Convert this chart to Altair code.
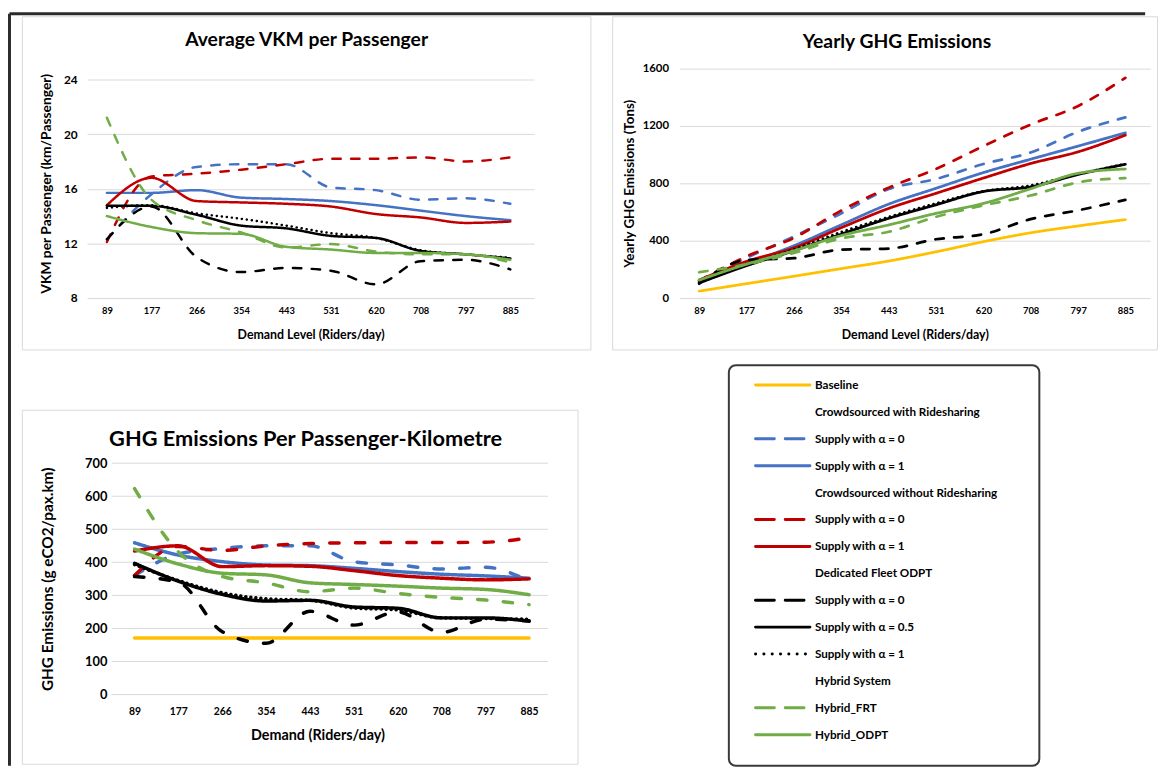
import altair as alt
import pandas as pd

FONT = "Lato"

demand = [89, 177, 266, 354, 443, 531, 620, 708, 797, 885]

# ---- Average VKM per Passenger (km/Passenger)
vkm_rs_a0 = [12.3, 15.6, 17.6, 17.8, 17.8, 16.1, 15.9, 15.2, 15.3, 14.9]
vkm_rs_a1 = [15.7, 15.7, 15.9, 15.35, 15.25, 15.1, 14.8, 14.4, 14.0, 13.7]
vkm_nors_a0 = [12.1, 16.9, 17.1, 17.4, 17.8, 18.2, 18.2, 18.3, 18.0, 18.3]
vkm_nors_a1 = [14.8, 16.8, 15.1, 15.0, 14.9, 14.7, 14.15, 13.9, 13.5, 13.6]
vkm_fleet_a0 = [12.3, 14.7, 11.0, 9.9, 10.2, 10.0, 9.0, 10.7, 10.8, 10.1]
vkm_fleet_a05 = [14.75, 14.75, 14.1, 13.3, 13.1, 12.55, 12.4, 11.45, 11.2, 10.9]
vkm_fleet_a1 = [14.6, 14.8, 14.2, 13.8, 13.3, 12.75, 12.4, 11.5, 11.2, 10.95]
vkm_hyb_frt = [21.2, 15.2, 13.7, 12.8, 11.7, 11.95, 11.4, 11.2, 11.2, 10.6]
vkm_hyb_odpt = [14.0, 13.2, 12.75, 12.7, 11.75, 11.55, 11.3, 11.3, 11.2, 10.8]

# ---- Yearly GHG Emissions (Tons)
ghg_baseline = [48, 100, 152, 205, 258, 322, 393, 455, 503, 547]
ghg_rs_a0 = [120, 280, 430, 590, 760, 830, 935, 1015, 1160, 1260]
ghg_rs_a1 = [125, 240, 365, 510, 655, 765, 875, 968, 1060, 1152]
ghg_nors_a0 = [120, 290, 420, 610, 770, 900, 1060, 1210, 1340, 1536]
ghg_nors_a1 = [125, 255, 350, 490, 625, 730, 837, 938, 1020, 1136]
ghg_fleet_a0 = [100, 265, 278, 338, 345, 410, 445, 550, 612, 685]
ghg_fleet_a05 = [105, 225, 330, 445, 556, 650, 743, 775, 862, 933]
ghg_fleet_a1 = [110, 230, 340, 460, 565, 660, 745, 785, 865, 935]
ghg_hyb_frt = [180, 235, 315, 416, 462, 566, 646, 715, 807, 837]
ghg_hyb_odpt = [125, 235, 330, 435, 510, 590, 660, 762, 870, 900]

# ---- GHG Emissions per passenger-km (g eCO2/pax.km)
pkm_baseline = [171, 171, 171, 171, 171, 171, 171, 171, 171, 171]
pkm_rs_a0 = [360, 425, 442, 450, 450, 402, 392, 380, 385, 343]
pkm_rs_a1 = [459, 422, 402, 392, 390, 382, 372, 364, 359, 352]
pkm_nors_a0 = [360, 448, 436, 450, 457, 459, 460, 460, 461, 474]
pkm_nors_a1 = [434, 450, 387, 390, 388, 375, 360, 352, 347, 350]
pkm_fleet_a0 = [357, 340, 190, 155, 252, 210, 250, 188, 228, 223]
pkm_fleet_a05 = [397, 343, 303, 283, 285, 265, 261, 232, 232, 222]
pkm_fleet_a1 = [393, 345, 308, 290, 285, 262, 256, 232, 230, 228]
pkm_hyb_frt = [623, 432, 357, 338, 311, 322, 306, 294, 286, 272]
pkm_hyb_odpt = [440, 395, 367, 362, 338, 333, 328, 322, 318, 302]

# ---- tick values
vkm_ticks = [8, 12, 16, 20, 24]
ghg_ticks = [0, 400, 800, 1200, 1600]
pkm_ticks = [0, 100, 200, 300, 400, 500, 600, 700]

# ---- series
series_keys = ["baseline", "rs_a0", "rs_a1", "nors_a0", "nors_a1",
               "fleet_a0", "fleet_a05", "fleet_a1", "hyb_frt", "hyb_odpt"]
series_colors = ["#FFC000", "#4472C4", "#4472C4", "#C00000", "#C00000",
                 "#000000", "#000000", "#000000", "#70AD47", "#70AD47"]
series_styles = ["solid", "dash", "solid", "dash", "solid",
                 "dash", "solid", "dot", "dash", "solid"]

legend_labels = ["Baseline", "Crowdsourced with Ridesharing", "Supply with α = 0",
                 "Supply with α = 1", "Crowdsourced without Ridesharing",
                 "Supply with α = 0", "Supply with α = 1", "Dedicated Fleet ODPT",
                 "Supply with α = 0", "Supply with α = 0.5", "Supply with α = 1",
                 "Hybrid System", "Hybrid_FRT", "Hybrid_ODPT"]
legend_keys = ["baseline", "", "rs_a0", "rs_a1", "", "nors_a0", "nors_a1", "",
               "fleet_a0", "fleet_a05", "fleet_a1", "", "hyb_frt", "hyb_odpt"]

vkm = {"rs_a0": vkm_rs_a0, "rs_a1": vkm_rs_a1, "nors_a0": vkm_nors_a0,
       "nors_a1": vkm_nors_a1, "fleet_a0": vkm_fleet_a0, "fleet_a05": vkm_fleet_a05,
       "fleet_a1": vkm_fleet_a1, "hyb_frt": vkm_hyb_frt, "hyb_odpt": vkm_hyb_odpt}
ghg = {"baseline": ghg_baseline, "rs_a0": ghg_rs_a0, "rs_a1": ghg_rs_a1,
       "nors_a0": ghg_nors_a0, "nors_a1": ghg_nors_a1, "fleet_a0": ghg_fleet_a0,
       "fleet_a05": ghg_fleet_a05, "fleet_a1": ghg_fleet_a1,
       "hyb_frt": ghg_hyb_frt, "hyb_odpt": ghg_hyb_odpt}
pkm = {"baseline": pkm_baseline, "rs_a0": pkm_rs_a0, "rs_a1": pkm_rs_a1,
       "nors_a0": pkm_nors_a0, "nors_a1": pkm_nors_a1, "fleet_a0": pkm_fleet_a0,
       "fleet_a05": pkm_fleet_a05, "fleet_a1": pkm_fleet_a1,
       "hyb_frt": pkm_hyb_frt, "hyb_odpt": pkm_hyb_odpt}


def long_df(table):
    rows = []
    for key in series_keys:
        if key in table:
            for d, v in zip(demand, table[key]):
                rows.append({"demand": d, "value": v, "series": key})
    return pd.DataFrame(rows)


def dash_range(dash, dot):
    out = []
    for s in series_styles:
        if s == "dash":
            out.append(dash)
        elif s == "dot":
            out.append(dot)
        else:
            out.append([1, 0])
    return out


def x_domain(width, first_px, last_px):
    per = (last_px - first_px) / (demand[-1] - demand[0])
    return [demand[0] - first_px / per, demand[-1] + (width - last_px) / per]


ONE = alt.Data(values=[{}])


def box(x1, x2, y1, y2, color="#d9d9d9", width=1.0, radius=0):
    return alt.Chart(ONE).mark_rect(
        fillOpacity=0, stroke=color, strokeWidth=width, cornerRadius=radius
    ).encode(x=alt.value(x1), x2=alt.value(x2), y=alt.value(y1), y2=alt.value(y2))


def title_mark(text, x, y, size):
    return alt.Chart(alt.Data(values=[{"t": text}])).mark_text(
        font=FONT, fontSize=size, fontWeight="bold", color="#000000",
        align="center", baseline="middle"
    ).encode(x=alt.value(x), y=alt.value(y), text="t:N")


def x_axis(title, lsize, tsize, lpad, tpad):
    return alt.Axis(values=demand, format="d", title=title, grid=False, ticks=False,
                    domain=False, labelFontSize=lsize, titleFontSize=tsize,
                    labelPadding=lpad, titlePadding=tpad, labelFlush=False,
                    labelOverlap=False)


def y_axis(title, vals, lsize, tsize, lpad, tpad, grid=True, offset=0):
    kw = dict(values=vals, title=title, format="d", grid=grid, ticks=False, domain=False,
              labelFontSize=lsize, titleFontSize=tsize, labelPadding=lpad,
              titlePadding=tpad, gridColor="#d9d9d9", gridWidth=1, labelOverlap=False)
    if offset:
        kw["offset"] = offset
    return alt.Axis(**kw)


def lines(table, xdom, ydom, xa, ya, lw, dash, dot):
    return alt.Chart(long_df(table)).mark_line(
        strokeWidth=lw, strokeCap="round", strokeJoin="round", interpolate="monotone"
    ).encode(
        x=alt.X("demand:Q", scale=alt.Scale(domain=xdom, nice=False, zero=False), axis=xa),
        y=alt.Y("value:Q", scale=alt.Scale(domain=ydom, nice=False, zero=False), axis=ya),
        color=alt.Color("series:N", scale=alt.Scale(domain=series_keys, range=series_colors),
                        legend=None),
        strokeDash=alt.StrokeDash("series:N",
                                  scale=alt.Scale(domain=series_keys, range=dash_range(dash, dot)),
                                  legend=None),
    )


# ---------- Panel 1 : plot page (88,65) 452x232
W1, H1 = 452, 232
c1_lines = lines(
    vkm, x_domain(W1, 20, 428), [8, 24 + 11 / (221 / 16)],
    x_axis("Demand Level (Riders/day)", 9.5, 12.5, 8, 13),
    y_axis("VKM per Passenger (km/Passenger)", vkm_ticks, 12, 14, 10, 10),
    2.5, [8.5, 10.5], [0.1, 5],
)
outer_top = alt.Chart(ONE).mark_rule(color="#2b2b2b", strokeWidth=3).encode(
    x=alt.value(-78.5), x2=alt.value(1070), y=alt.value(-55.5))
outer_left = alt.Chart(ONE).mark_rule(color="#2b2b2b", strokeWidth=3).encode(
    x=alt.value(-78.5), y=alt.value(-55.5), y2=alt.value(705))
c1 = alt.layer(
    box(-65.5, 509.5, -52.5, 284.5),
    outer_top, outer_left,
    title_mark("Average VKM per Passenger", 222, -29, 19.5),
    c1_lines,
).properties(width=W1, height=H1)

# ---------- Panel 2 : plot page (673,65) 476x232
W2, H2 = 476, 232
c2_lines = lines(
    ghg, x_domain(W2, 20, 451), [0, 1600],
    x_axis("Demand Level (Riders/day)", 9.5, 12.5, 8, 13),
    y_axis("Yearly GHG Emissions (Tons)", ghg_ticks, 11.5, 13.5, 11, 6),
    2.75, [8.5, 10.5], [0.1, 5],
)
c2 = alt.layer(
    box(-67.5, 483.5, -52.5, 284.5),
    title_mark("Yearly GHG Emissions", 220, -27, 19.5),
    c2_lines,
).properties(width=W2, height=H2)

# ---------- Panel 3 : plot page (88,464) 466x234 (gridlines from page x 113)
W3, H3 = 466, 234
ya3 = y_axis("GHG Emissions (g eCO2/pax.km)", pkm_ticks, 13, 15.5, 5, 29,
             grid=False, offset=-25)
grid3 = alt.Chart(pd.DataFrame({"value": pkm_ticks})).mark_rule(
    color="#d9d9d9", strokeWidth=1
).encode(
    x=alt.value(25), x2=alt.value(W3),
    y=alt.Y("value:Q", scale=alt.Scale(domain=[0, 700], nice=False, zero=False), axis=ya3),
)
c3_lines = lines(
    pkm, x_domain(W3, 48, 447), [0, 700],
    x_axis("Demand (Riders/day)", 10.5, 14.5, 12, 12),
    ya3,
    3.5, [9.5, 16.5], [0.1, 5],
)
c3 = alt.layer(
    box(-65.5, 496.5, -53.5, 304.5),
    title_mark("GHG Emissions Per Passenger-Kilometre", 221, -24, 22),
    grid3,
    c3_lines,
).properties(width=W3, height=H3)

# ---------- Legend cell
ROW_STEP = 27.2
ROW0 = -79
LEG_H = 269
lo = -ROW0 / ROW_STEP
hi = lo + LEG_H / ROW_STEP
leg_df = pd.DataFrame({"row": list(range(len(legend_labels))),
                       "label": legend_labels, "key": legend_keys})
leg_y = alt.Y("row:Q", scale=alt.Scale(domain=[lo, hi], reverse=True,
                                       nice=False, zero=False), axis=None)
leg_lines = alt.Chart(leg_df).transform_filter("datum.key != ''").mark_rule(
    strokeWidth=3, strokeCap="round"
).encode(
    x=alt.value(77), x2=alt.value(132), y=leg_y,
    color=alt.Color("key:N", scale=alt.Scale(domain=series_keys, range=series_colors),
                    legend=None),
    strokeDash=alt.StrokeDash("key:N",
                              scale=alt.Scale(domain=series_keys,
                                              range=dash_range([19, 11], [0.1, 8.3])),
                              legend=None),
)
leg_text = alt.Chart(leg_df).mark_text(
    align="left", baseline="middle", font=FONT, fontSize=11.8, fontWeight="bold",
    color="#000000"
).encode(x=alt.value(137), y=leg_y, text="label:N")
legend = alt.layer(
    box(50, 364, -99, 306, color="#3a3a3a", width=2, radius=7),
    leg_lines, leg_text,
).properties(width=320, height=LEG_H)

chart = alt.ConcatChart(
    concat=[c1, c2, c3, legend], columns=2,
    spacing=alt.RowColnumber(row=167, column=133),
    bounds="flush", align="none", padding=0,
).resolve_scale(
    color="independent", strokeDash="independent"
).configure_view(
    strokeWidth=0
).configure_axis(
    labelFont=FONT, titleFont=FONT, labelColor="#000000", titleColor="#000000",
    labelFontWeight="bold", titleFontWeight="bold"
)

chart.save("out.html", embed_options={"renderer": "svg", "actions": False})
